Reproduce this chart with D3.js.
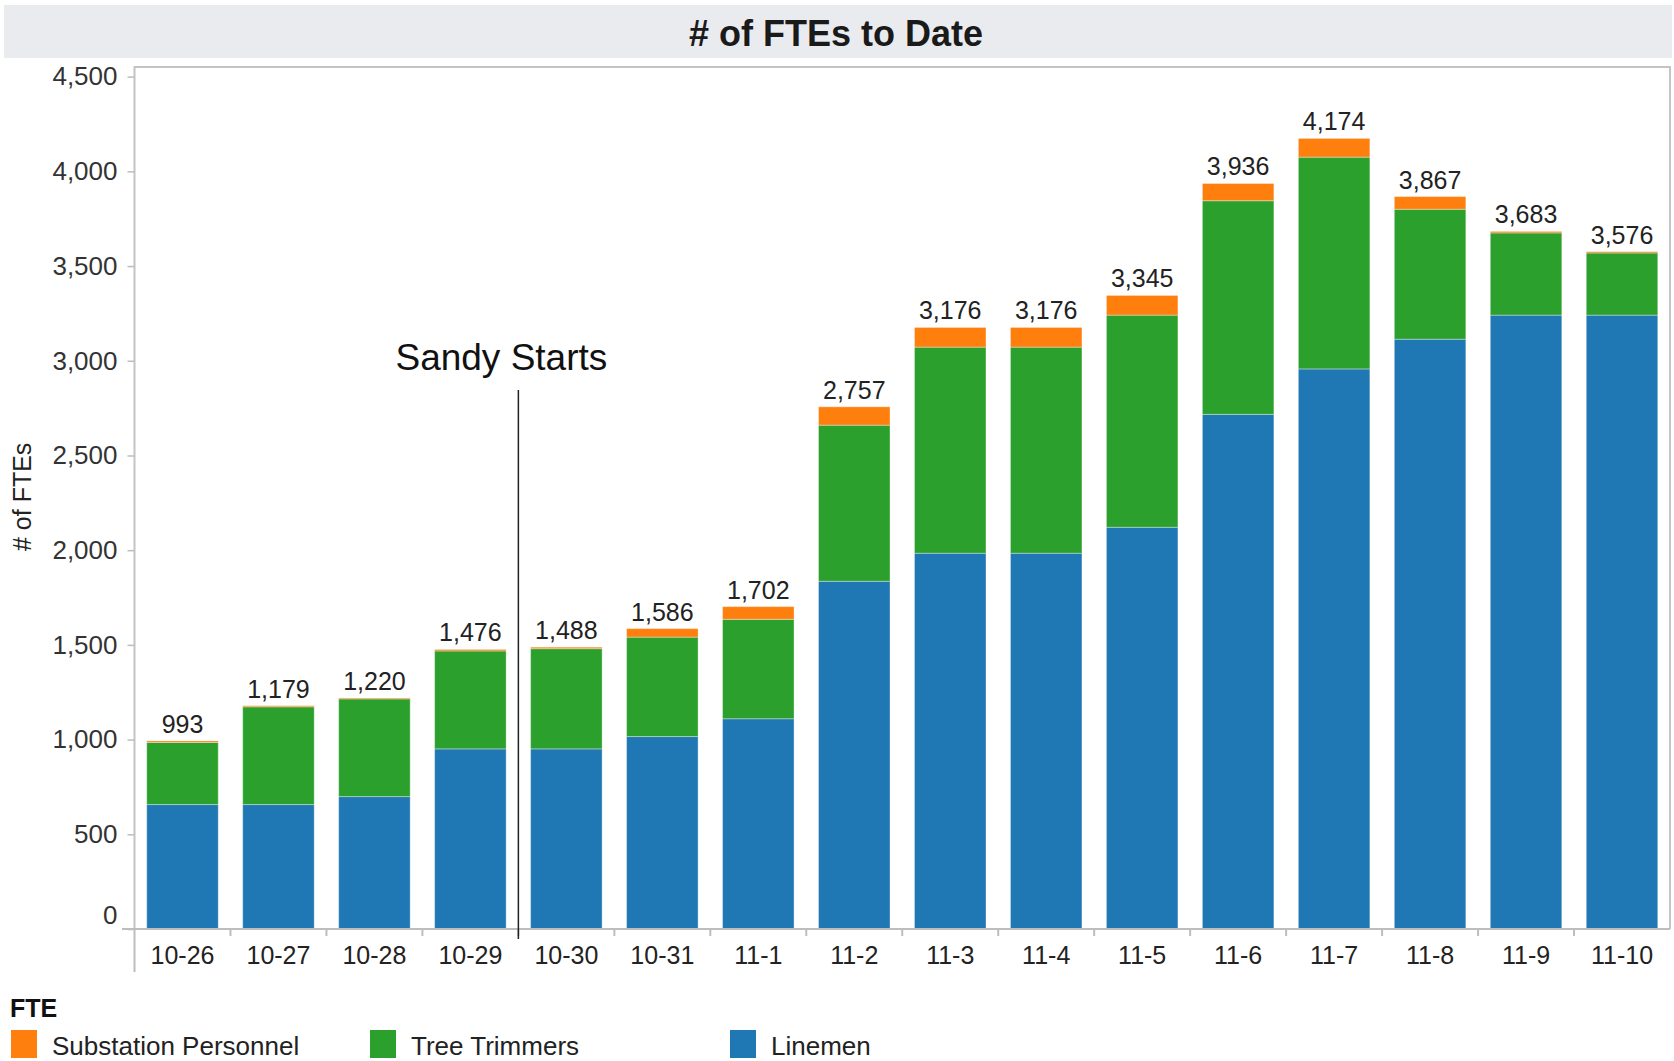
<!DOCTYPE html>
<html>
<head>
<meta charset="utf-8">
<script src="https://cdn.jsdelivr.net/npm/d3@7"></script>
<style>
  html, body { margin: 0; padding: 0; background: #fff; }
  svg { display: block; font-family: "Liberation Sans", Arial, sans-serif; }
</style>
</head>
<body>
<svg id="chart" width="1674" height="1061"></svg>
<script>
// ---- Data ----
const categories = ["10-26","10-27","10-28","10-29","10-30","10-31","11-1","11-2","11-3","11-4","11-5","11-6","11-7","11-8","11-9","11-10"];
const linemen      = [657, 657, 699, 951, 951, 1016, 1110, 1836, 1984, 1984, 2121, 2717, 2957, 3114, 3241, 3241];
const treeTrimmers = [328, 516, 516, 517, 529, 525, 525, 824, 1088, 1088, 1120, 1128, 1118, 686, 434, 328];
const substation   = [8, 6, 5, 8, 8, 45, 67, 97, 104, 104, 104, 91, 99, 67, 8, 7];
const seriesNames  = ["Linemen", "Tree Trimmers", "Substation Personnel"];
const legendOrder  = ["Substation Personnel", "Tree Trimmers", "Linemen"];
const yTicks       = [0, 500, 1000, 1500, 2000, 2500, 3000, 3500, 4000, 4500];
const annotationLabel = "Sandy Starts";
const annotationAfter = "10-29";

const colors = { "Linemen": "#1f77b4", "Tree Trimmers": "#2ca02c", "Substation Personnel": "#ff7f0e" };

const rows = categories.map((c, i) => ({
  cat: c,
  "Linemen": linemen[i],
  "Tree Trimmers": treeTrimmers[i],
  "Substation Personnel": substation[i]
}));
rows.forEach(r => r.total = r["Linemen"] + r["Tree Trimmers"] + r["Substation Personnel"]);

// ---- Layout ----
const svg = d3.select("#chart");
const plot = { left: 134.5, right: 1670, top: 67, bottom: 929 };

const x = d3.scaleBand().domain(categories).range([plot.left, plot.right]).paddingInner(0.255).paddingOuter(0.1275);
const y = d3.scaleLinear().domain([0, 4551]).range([plot.bottom, plot.top]);

// Title band
svg.append("rect").attr("x", 4).attr("y", 5).attr("width", 1668).attr("height", 53).attr("fill", "#eaebef");
svg.append("text").attr("x", 836).attr("y", 46).attr("text-anchor", "middle")
  .attr("font-size", 36).attr("font-weight", "bold").attr("fill", "#1a1a1a")
  .text("# of FTEs to Date");

// Plot frame
svg.append("path")
  .attr("d", `M${plot.left},${plot.bottom} V${plot.top} H${plot.right} V${plot.bottom}`)
  .attr("fill", "none").attr("stroke", "#c4c4c4").attr("stroke-width", 2);

// Stacked bars
const stack = d3.stack().keys(seriesNames);
const stacked = stack(rows);
svg.append("g").selectAll("g").data(stacked).join("g")
  .attr("fill", d => colors[d.key])
  .selectAll("rect").data(d => d).join("rect")
  .attr("x", d => x(d.data.cat))
  .attr("width", x.bandwidth())
  .attr("y", d => y(d[1]))
  .attr("height", d => y(d[0]) - y(d[1]))
  .attr("stroke", "#ffffff").attr("stroke-opacity", 0.35).attr("stroke-width", 1);

// Total labels
svg.append("g").selectAll("text").data(rows).join("text")
  .attr("x", d => x(d.cat) + x.bandwidth() / 2)
  .attr("y", d => y(d.total) - 8)
  .attr("text-anchor", "middle").attr("font-size", 25).attr("fill", "#222")
  .text(d => d3.format(",")(d.total));

// Y axis
const yAxis = svg.append("g").attr("transform", `translate(${plot.left},0)`)
  .call(d3.axisLeft(y).tickValues(yTicks).tickFormat(d3.format(",")).tickSize(7).tickPadding(10));
yAxis.select(".domain").remove();
yAxis.selectAll(".tick line").attr("stroke", "#bdbdbd").attr("stroke-width", 1.5);
yAxis.selectAll(".tick text").attr("font-size", 26).attr("fill", "#333").attr("font-family", "Liberation Sans, Arial, sans-serif");
yAxis.selectAll(".tick").filter(d => d === 0).select("text").attr("dy", "-0.2em");

svg.append("text")
  .attr("transform", `translate(31,${(y(0) + y(4500)) / 2 - 6}) rotate(-90)`)
  .attr("text-anchor", "middle").attr("font-size", 25).attr("fill", "#222")
  .text("# of FTEs");

// X axis
const xAxis = svg.append("g").attr("transform", `translate(0,${plot.bottom})`)
  .call(d3.axisBottom(x).tickSize(0).tickPadding(17));
xAxis.select(".domain").remove();
xAxis.selectAll(".tick text").attr("font-size", 25).attr("fill", "#222").attr("font-family", "Liberation Sans, Arial, sans-serif");

svg.append("line").attr("x1", 122).attr("x2", plot.right).attr("y1", plot.bottom).attr("y2", plot.bottom)
  .attr("stroke", "#bdbdbd").attr("stroke-width", 2);
svg.append("line").attr("x1", plot.left).attr("x2", plot.left).attr("y1", plot.bottom).attr("y2", 972)
  .attr("stroke", "#bdbdbd").attr("stroke-width", 2);
const step = x.step();
svg.append("g").selectAll("line").data(categories.slice(1)).join("line")
  .attr("x1", d => x(d) - (step - x.bandwidth()) / 2)
  .attr("x2", d => x(d) - (step - x.bandwidth()) / 2)
  .attr("y1", plot.bottom).attr("y2", plot.bottom + 7)
  .attr("stroke", "#bdbdbd").attr("stroke-width", 2);

// Annotation
const annX = x(annotationAfter) + x.bandwidth() + (step - x.bandwidth()) / 2;
svg.append("line").attr("x1", annX).attr("x2", annX).attr("y1", 390).attr("y2", 939)
  .attr("stroke", "#222").attr("stroke-width", 1.5);
svg.append("text").attr("x", annX - 17).attr("y", 370).attr("text-anchor", "middle")
  .attr("font-size", 37).attr("fill", "#111").text(annotationLabel);

// Legend
svg.append("text").attr("x", 10).attr("y", 1017).attr("font-size", 25).attr("font-weight", "bold").attr("fill", "#111").text("FTE");
const legendX = [11, 370, 730];
const lg = svg.append("g").selectAll("g").data(legendOrder).join("g")
  .attr("transform", (d, i) => `translate(${legendX[i]},1030)`);
lg.append("rect").attr("width", 26).attr("height", 28).attr("fill", d => colors[d]);
lg.append("text").attr("x", 41).attr("y", 25).attr("font-size", 26).attr("fill", "#222").text(d => d);
</script>
</body>
</html>
